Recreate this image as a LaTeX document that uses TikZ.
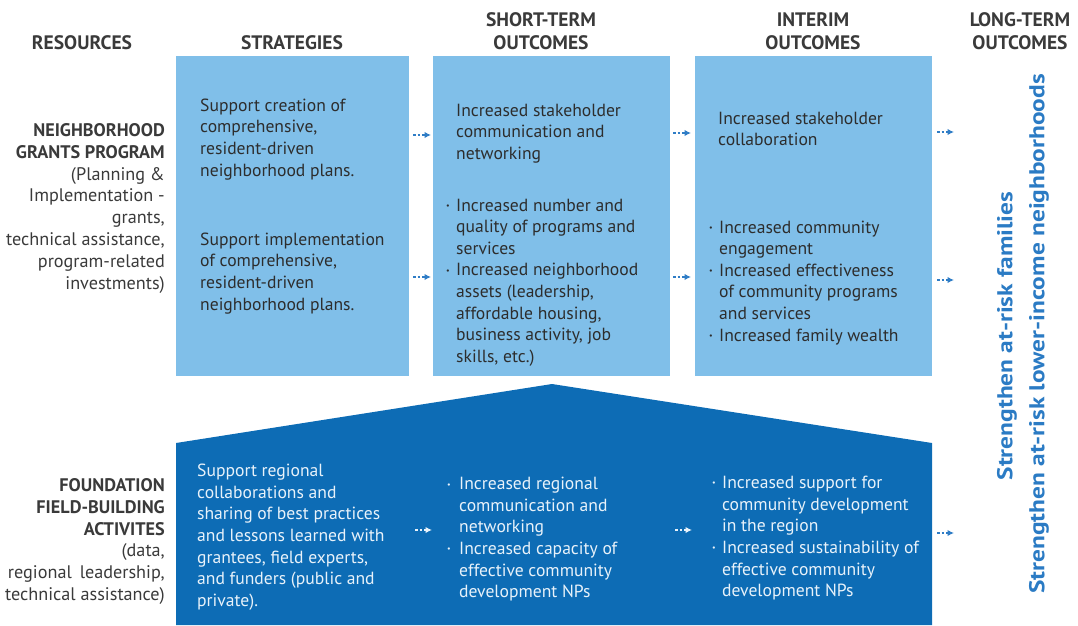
\documentclass[tikz,border=0pt]{standalone}
\usepackage{fontspec}
\setmainfont{PT Sans}
\newfontfamily\longfont[FakeStretch=1.18]{PT Sans}
\usetikzlibrary{arrows.meta}
\definecolor{lightbox}{RGB}{128,191,233}
\definecolor{darkbox}{RGB}{13,108,181}
\definecolor{headtext}{RGB}{58,58,58}
\definecolor{bodytext}{RGB}{45,45,45}
\definecolor{whitetext}{RGB}{232,242,250}
\definecolor{arrowblue}{RGB}{47,125,198}
\definecolor{longblue}{RGB}{43,123,196}
\newcommand\bul{\makebox[10pt][l]{\raisebox{0.3ex}{\fontsize{8}{8}\selectfont\textbullet}}}
\newcommand\ind{\hspace*{10pt}}
\tikzset{
  head/.style={font=\fontsize{19.5}{23}\selectfont\bfseries, text=headtext, align=center, inner sep=0},
  body/.style={font=\fontsize{17.6}{21.6}\selectfont, text=bodytext, align=left, inner sep=0, anchor=north west},
  darkbody/.style={body, text=whitetext},
  reslabel/.style={font=\fontsize{18.2}{21.9}\selectfont, text=headtext, align=right, inner sep=0, anchor=north east},
  gaparrow/.style={draw=arrowblue, line width=1.3pt, dash pattern=on 2.5pt off 2pt, -{Latex[length=6.5pt,width=6.5pt]}},
  darkarrow/.style={gaparrow, draw=whitetext},
  longtext/.style={font=\longfont\fontsize{21.5}{24}\selectfont\bfseries, text=longblue, rotate=90, inner sep=0}
}
\begin{document}
\begin{tikzpicture}[x=1pt,y=-1pt]
\useasboundingbox (0,0) rectangle (1078,625);
% boxes
\fill[lightbox] (176,56) rectangle (409,376);
\fill[lightbox] (433,56) rectangle (670,376);
\fill[lightbox] (695,56) rectangle (932,376);
\fill[darkbox] (176,443) -- (552,384) -- (932,443) -- (932,625) -- (176,625) -- cycle;
% headers
\node[head] (hres) at (82,43) {RESOURCES};
\node[head] (hstr) at (292,43) {STRATEGIES};
\node[head] (hst) at (541,31.5) {SHORT-TERM\\OUTCOMES};
\node[head] (hint) at (813,31.5) {INTERIM\\OUTCOMES};
\node[head] (hlt) at (1020,31.5) {LONG-TERM\\OUTCOMES};
% resource labels
\node[reslabel] (ngp) at (165,123) {\textbf{NEIGHBORHOOD}\\\textbf{GRANTS PROGRAM}\\(Planning \&\\Implementation -\\grants,\\technical assistance,\\program-related\\investments)};
\node[reslabel] (ffb) at (165,478) {\textbf{FOUNDATION}\\\textbf{FIELD-BUILDING}\\\textbf{ACTIVITES}\\(data,\\regional\, leadership,\\technical assistance)};
% box 1
\node[body] (s1) at (200,98.5) {Support creation of\\comprehensive,\\resident-driven\\neighborhood plans.};
\node[body] (s2) at (200,232.5) {Support implementation\\of comprehensive,\\resident-driven\\neighborhood plans.};
% box 2
\node[body] (st1) at (456,103.5) {Increased stakeholder\\communication and\\networking};
\node[body] (st2) at (446,198.5) {\bul Increased number and\\\ind quality of programs and\\\ind services\\\bul Increased neighborhood\\\ind assets (leadership,\\\ind affordable housing,\\\ind business activity, job\\\ind skills, etc.)};
% box 3
\node[body] (i1) at (718,111.5) {Increased stakeholder\\collaboration};
\node[body] (i2) at (709,220.5) {\bul Increased community\\\ind engagement\\\bul Increased effectiveness\\\ind of community programs\\\ind and services\\\bul Increased family wealth};
% dark box
\node[darkbody] (d1) at (197,464) {Support regional\\collaborations and\\sharing of best practices\\and lessons learned with\\grantees, field experts,\\and funders (public and\\private).};
\node[darkbody] (d2) at (447,477) {\bul\hspace{2pt}Increased regional\\\ind\hspace{2pt}communication and\\\ind\hspace{2pt}networking\\\bul\hspace{2pt}Increased capacity of\\\ind\hspace{2pt}effective community\\\ind\hspace{2pt}development NPs};
\node[darkbody] (d3) at (712,476) {\bul Increased support for\\\ind community development\\\ind in the region\\\bul Increased sustainability of\\\ind effective community\\\ind development NPs};
% long-term text
\node[longtext] (lt1) at (1007,336) {Strengthen at-risk families};
\node[longtext] (lt2) at (1039,334) {Strengthen at-risk lower-income neighborhoods};
% arrows
\coordinate (a1s) at (413,135); \coordinate (a1e) at (431,135);
\coordinate (a2s) at (413,277); \coordinate (a2e) at (431,277);
\coordinate (a3s) at (673,133); \coordinate (a3e) at (691,133);
\coordinate (a4s) at (673,277); \coordinate (a4e) at (691,277);
\coordinate (a5s) at (937,132); \coordinate (a5e) at (954,132);
\coordinate (a6s) at (937,280); \coordinate (a6e) at (954,280);
\coordinate (a7s) at (937,533); \coordinate (a7e) at (954,533);
\coordinate (a8s) at (415,530); \coordinate (a8e) at (432,530);
\coordinate (a9s) at (675,530); \coordinate (a9e) at (692,530);
\draw[gaparrow] (a1s) -- (a1e);
\draw[gaparrow] (a2s) -- (a2e);
\draw[gaparrow] (a3s) -- (a3e);
\draw[gaparrow] (a4s) -- (a4e);
\draw[gaparrow] (a5s) -- (a5e);
\draw[gaparrow] (a6s) -- (a6e);
\draw[gaparrow] (a7s) -- (a7e);
\draw[darkarrow] (a8s) -- (a8e);
\draw[darkarrow] (a9s) -- (a9e);
\end{tikzpicture}
\end{document}
